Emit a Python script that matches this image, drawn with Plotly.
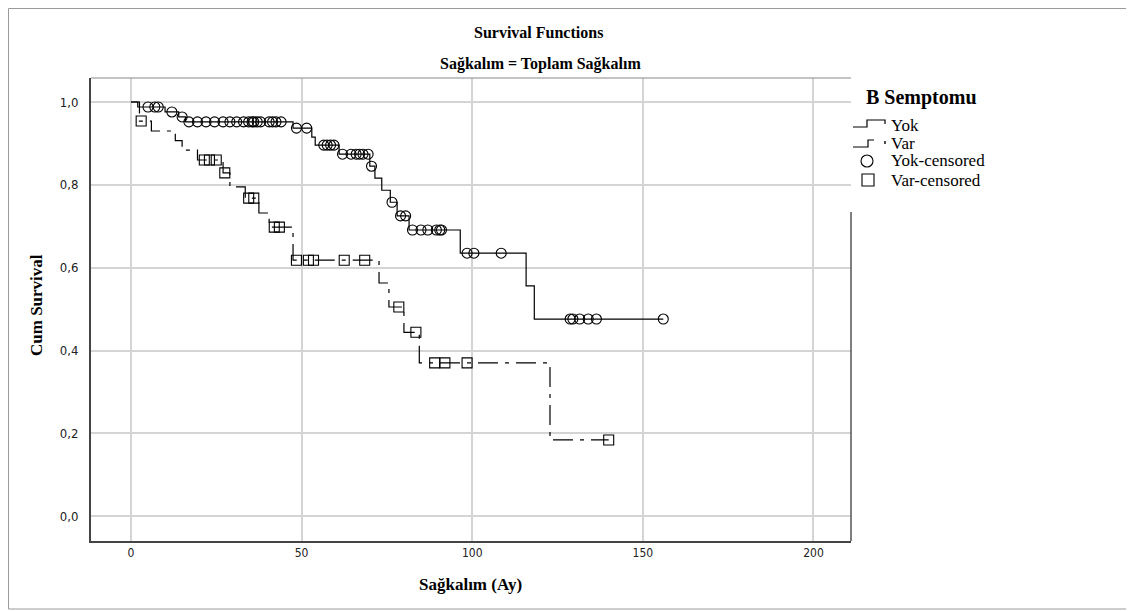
import numpy as np
import plotly.graph_objects as go

# ---------------- data ----------------
yok_event_times = [2, 10, 14, 16, 47.5, 53, 54, 61, 70, 71.5, 73.5, 76, 78, 81.5, 96.5, 115.8, 118.2]
yok_surv = [0.988, 0.976, 0.964, 0.952, 0.937, 0.915, 0.896, 0.874, 0.845, 0.816, 0.787,
            0.758, 0.725, 0.691, 0.635, 0.556, 0.476]
yok_censored = [5, 7, 8, 12, 15, 17, 19.5, 22, 24.5, 27, 29, 31, 33, 34.5, 35.5, 36, 37, 38,
                40.5, 41.5, 42.5, 44, 48.5, 51.5, 56.5, 57.5, 58.5, 59.5, 62, 64.5, 66, 67, 68,
                69.5, 70.5, 76.5, 79, 80.5, 82.5, 85, 87, 89.5, 90.5, 91, 98.5, 100.5, 108.5,
                128.7, 129.5, 131.5, 134, 136.4, 156]

var_event_times = [2.5, 6, 13, 15, 19.5, 27, 29, 33.5, 37.5, 40.5, 47.5, 72.7, 75.6, 80, 84.5, 122.8]
var_surv = [0.954, 0.930, 0.907, 0.884, 0.860, 0.829, 0.795, 0.768, 0.732, 0.698, 0.618,
            0.563, 0.505, 0.444, 0.370, 0.184]
var_censored = [3, 21.5, 23, 25, 27.5, 34.5, 36, 42, 43.5, 48.5, 52, 53.5, 62.5, 68.5, 78.5,
                83.5, 89, 92, 98.5, 140]

x_ticks = [0, 50, 100, 150, 200]
y_ticks = [0.0, 0.2, 0.4, 0.6, 0.8, 1.0]

title_text = "Survival Functions"
subtitle_text = "Sağkalım = Toplam Sağkalım"
x_title = "Sağkalım (Ay)"
y_title = "Cum Survival"
legend_title = "B Semptomu"
legend_labels = ["Yok", "Var", "Yok-censored", "Var-censored"]


def step_path(ev_t, ev_s, cens):
    t_end = max(max(ev_t), max(cens))
    xs = [0] + list(ev_t) + [t_end]
    ys = [1.0] + list(ev_s) + [ev_s[-1]]
    return xs, ys


def surv_at(ev_t, ev_s, times):
    ev_t = np.asarray(ev_t)
    full = np.concatenate([[1.0], np.asarray(ev_s)])
    idx = np.searchsorted(ev_t, np.asarray(times), side="right")
    return full[idx]


OFF = 8  # page body margin
W, H = 1134 - OFF, 611 - OFF
L, R, T, B = 91 - OFF, 851 - OFF, 78 - OFF, 541 - OFF


def px(x):  # screen pixel (reference) -> paper
    return (x - OFF - L) / (R - L)


def py(y):
    return (B - (y - OFF)) / (B - T)


SERIF = "Liberation Serif, Times New Roman, serif"
SANS = "DejaVu Sans Condensed, DejaVu Sans, sans-serif"
DASHDOT = "20px,7px,4px,7px"

fig = go.Figure()

xs, ys = step_path(yok_event_times, yok_surv, yok_censored)
fig.add_trace(go.Scatter(x=xs, y=ys, mode="lines", line=dict(shape="hv", color="black", width=1.2),
                         name=legend_labels[0], showlegend=False))
xs, ys = step_path(var_event_times, var_surv, var_censored)
fig.add_trace(go.Scatter(x=xs, y=ys, mode="lines",
                         line=dict(shape="hv", color="black", width=1.2, dash=DASHDOT),
                         name=legend_labels[1], showlegend=False))
fig.add_trace(go.Scatter(x=yok_censored, y=surv_at(yok_event_times, yok_surv, yok_censored),
                         mode="markers", name=legend_labels[2], showlegend=False,
                         marker=dict(symbol="circle-open", size=10, color="black", line=dict(width=1.1))))
fig.add_trace(go.Scatter(x=var_censored, y=surv_at(var_event_times, var_surv, var_censored),
                         mode="markers", name=legend_labels[3], showlegend=False,
                         marker=dict(symbol="square-open", size=10, color="black", line=dict(width=1.1))))


def pth(points):
    return "M " + " L ".join(f"{px(a):.5f},{py(b):.5f}" for a, b in points)


shapes = [
    dict(type="line", xref="paper", yref="paper", x0=0, x1=1, y0=1, y1=1,
         line=dict(color="#888888", width=1)),
    dict(type="line", xref="paper", yref="paper", x0=1, x1=1, y0=0, y1=py(212),
         line=dict(color="#555555", width=1.5)),
    dict(type="rect", xref="paper", yref="paper", x0=px(8.5), x1=px(1130), y0=py(609), y1=py(8.5),
         line=dict(color="#9a9a9a", width=1), layer="below"),
    # legend icons
    dict(type="path", xref="paper", yref="paper",
         path=pth([(853, 127), (867, 127), (867, 120), (885, 120), (885, 124)]),
         line=dict(color="black", width=1.2)),
    dict(type="path", xref="paper", yref="paper",
         path=pth([(853, 147), (868, 147), (868, 140), (874, 140)]),
         line=dict(color="black", width=1.2)),
    dict(type="line", xref="paper", yref="paper", x0=px(885), x1=px(885), y0=py(141), y1=py(144),
         line=dict(color="black", width=1.4)),
    dict(type="circle", xref="paper", yref="paper", x0=px(861), x1=px(873), y0=py(167), y1=py(155),
         line=dict(color="black", width=1.1)),
    dict(type="rect", xref="paper", yref="paper", x0=px(862), x1=px(874), y0=py(186), y1=py(174),
         line=dict(color="black", width=1.1)),
]

legend_ann = [dict(text="<b>" + legend_title + "</b>", x=px(864), y=py(97), xref="paper", yref="paper",
                   xanchor="left", yanchor="middle", showarrow=False,
                   font=dict(family=SERIF, size=20, color="black"))]
for lab, ly in zip(legend_labels, [125, 143, 161, 180]):
    legend_ann.append(dict(text=lab, x=px(889), y=py(ly), xref="paper", yref="paper",
                           xanchor="left", yanchor="middle", showarrow=False,
                           font=dict(family=SERIF, size=17, color="black")))

fig.update_layout(
    width=W, height=H,
    margin=dict(l=L, r=W - R, t=T, b=H - B, pad=0),
    paper_bgcolor="white", plot_bgcolor="white",
    separators=", ",
    showlegend=False,
    xaxis=dict(range=[-11.7, 211.0], tickvals=x_ticks, showgrid=True, gridcolor="#d4d4d4", gridwidth=1.5,
               zeroline=False, showline=True, linecolor="#444444", linewidth=2, ticks="",
               tickfont=dict(family=SANS, size=12, color="#222"), mirror=False),
    yaxis=dict(range=[-0.06, 1.058], tickvals=y_ticks, tickformat=".1f", showgrid=True, gridcolor="#d4d4d4",
               gridwidth=1.5, zeroline=False, showline=True, linecolor="#444444", linewidth=2, ticks="",
               ticklabelstandoff=8,
               tickfont=dict(family=SANS, size=13, color="#222")),
    annotations=[
        dict(text="<b>" + title_text + "</b>", x=px(538), y=py(33), xref="paper", yref="paper",
             xanchor="center", yanchor="middle",
             showarrow=False, font=dict(family=SERIF, size=16, color="black")),
        dict(text="<b>" + subtitle_text + "</b>", x=px(540), y=py(64), xref="paper", yref="paper",
             xanchor="center", yanchor="middle",
             showarrow=False, font=dict(family=SERIF, size=16, color="black")),
        dict(text="<b>" + x_title + "</b>", x=px(470), y=py(584), xref="paper", yref="paper",
             xanchor="center", yanchor="middle",
             showarrow=False, font=dict(family=SERIF, size=17, color="black")),
        dict(text="<b>" + y_title + "</b>", x=px(36), y=py(305), xref="paper", yref="paper",
             xanchor="center", yanchor="middle",
             showarrow=False, textangle=-90, font=dict(family=SERIF, size=17, color="black")),
    ] + legend_ann,
    shapes=shapes,
)

fig.write_html("out.html")
